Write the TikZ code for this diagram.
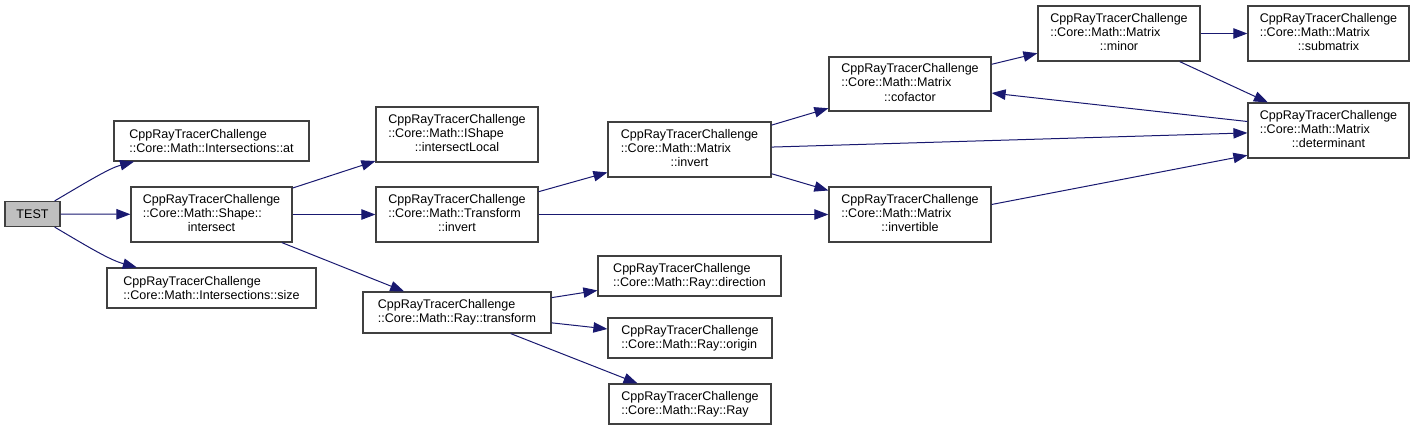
\documentclass[tikz,border=0pt]{standalone}
\usepackage{fontspec}
\setmainfont{Liberation Sans}
\usetikzlibrary{arrows.meta}
\definecolor{edgeblue}{HTML}{191970}
\definecolor{boxline}{HTML}{404040}
\definecolor{testfill}{HTML}{BFBFBF}
% three-line label, last line centred
\newcommand{\mlbl}[3]{\begin{tabular}{@{}l@{}}#1\\#2\\\multicolumn{1}{@{}c@{}}{#3}\end{tabular}}

\begin{document}
\begin{tikzpicture}[x=0.75pt, y=-0.75pt,
      cls/.style={draw=boxline, fill=white, line width=0.9pt, inner sep=0pt, align=left,
                  font=\fontsize{9.4}{10.7}\selectfont},
      sz/.style 2 args={minimum width=#1*0.75pt, minimum height=#2*0.75pt},
      edge/.style={-{Triangle[length=10.5pt, width=7.8pt]}, edgeblue, line width=0.75pt}]
    \useasboundingbox (0,0) rectangle (1415,430);
    \node[cls, sz={55}{25}, fill=testfill] (test) at (32.5,214) {TEST};
    \node[cls, sz={195}{40}] (at) at (211.5,141) {CppRayTracerChallenge\\::Core::Math::Intersections::at};
    \node[cls, sz={161}{55}] (shint) at (211.5,214.5) {\mlbl{CppRayTracerChallenge}{::Core::Math::Shape::}{intersect}};
    \node[cls, sz={209}{40}] (size) at (211.5,288) {CppRayTracerChallenge\\::Core::Math::Intersections::size};
    \node[cls, sz={162}{55}] (ilocal) at (457,134.5) {\mlbl{CppRayTracerChallenge}{::Core::Math::IShape}{::intersectLocal}};
    \node[cls, sz={162}{55}] (tinv) at (457,214.5) {\mlbl{CppRayTracerChallenge}{::Core::Math::Transform}{::invert}};
    \node[cls, sz={188}{41}] (rtrans) at (457,312.5) {CppRayTracerChallenge\\::Core::Math::Ray::transform};
    \node[cls, sz={163}{55}] (minv) at (689.5,149.5) {\mlbl{CppRayTracerChallenge}{::Core::Math::Matrix}{::invert}};
    \node[cls, sz={183}{40}] (rdir) at (689.5,276) {CppRayTracerChallenge\\::Core::Math::Ray::direction};
    \node[cls, sz={164}{40}] (rorig) at (690,338) {CppRayTracerChallenge\\::Core::Math::Ray::origin};
    \node[cls, sz={162}{40}] (rray) at (690,404) {CppRayTracerChallenge\\::Core::Math::Ray::Ray};
    \node[cls, sz={162}{54}] (cof) at (910,84) {\mlbl{CppRayTracerChallenge}{::Core::Math::Matrix}{::cofactor}};
    \node[cls, sz={162}{55}] (minvb) at (910,214.5) {\mlbl{CppRayTracerChallenge}{::Core::Math::Matrix}{::invertible}};
    \node[cls, sz={162}{55}] (minor) at (1119,33.5) {\mlbl{CppRayTracerChallenge}{::Core::Math::Matrix}{::minor}};
    \node[cls, sz={161}{55}] (subm) at (1328.5,33.5) {\mlbl{CppRayTracerChallenge}{::Core::Math::Matrix}{::submatrix}};
    \node[cls, sz={161}{55}] (det) at (1328.5,130.5) {\mlbl{CppRayTracerChallenge}{::Core::Math::Matrix}{::determinant}};
    % calls
    \draw[edge] (test) .. controls (90,180) and (110,168) .. (at);
    \draw[edge] (test) -- (shint);
    \draw[edge] (test) .. controls (90,248) and (110,260) .. (size);
    \draw[edge] (shint) -- (ilocal); \draw[edge] (shint) -- (tinv); \draw[edge] (shint) -- (rtrans);
    \draw[edge] (tinv) -- (minv); \draw[edge] (tinv) -- (minvb);
    \draw[edge] (minv) -- (cof); \draw[edge] (minv) -- (det); \draw[edge] (minv) -- (minvb);
    \draw[edge] (cof) -- (minor);
    \draw[edge] (minor) -- (subm); \draw[edge] (minor) -- (det);
    \draw[edge] (det) -- (cof);
    \draw[edge] (minvb.7) -- (det.197);
    \draw[edge] (rtrans) -- (rdir); \draw[edge] (rtrans) -- (rorig); \draw[edge] (rtrans) -- (rray);
  \end{tikzpicture}
\end{document}
